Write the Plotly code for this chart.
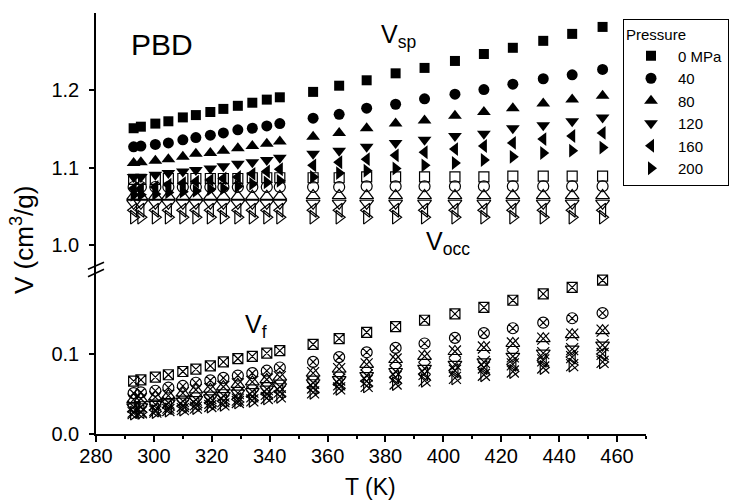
import plotly.graph_objects as go

# ---------------- data ----------------
temps = [293, 295.5, 300.5, 305, 310, 314.5, 319.5, 324, 329, 334, 339, 343.5,
         355, 364, 373.5, 383.5, 393.5, 404, 414, 424, 434.5, 444.5, 455]

pressures = ["0 MPa", "40", "80", "120", "160", "200"]

vsp_0 = [1.151, 1.153, 1.157, 1.160, 1.165, 1.168, 1.172, 1.176, 1.180, 1.184, 1.188, 1.191,
         1.198, 1.206, 1.213, 1.222, 1.229, 1.238, 1.247, 1.255, 1.264, 1.273, 1.282]
vsp_40 = [1.127, 1.128, 1.130, 1.132, 1.136, 1.139, 1.142, 1.145, 1.149, 1.151, 1.154, 1.157,
          1.164, 1.169, 1.177, 1.182, 1.189, 1.195, 1.201, 1.208, 1.215, 1.220, 1.227]
vsp_80 = [1.106, 1.107, 1.109, 1.111, 1.114, 1.118, 1.119, 1.122, 1.125, 1.128, 1.131, 1.134,
          1.140, 1.145, 1.151, 1.157, 1.161, 1.167, 1.172, 1.177, 1.183, 1.188, 1.193]
vsp_120 = [1.088, 1.088, 1.091, 1.093, 1.095, 1.097, 1.099, 1.102, 1.105, 1.107, 1.110, 1.113,
           1.118, 1.122, 1.127, 1.132, 1.136, 1.141, 1.144, 1.151, 1.155, 1.160, 1.165]
vsp_160 = [1.073, 1.073, 1.075, 1.078, 1.080, 1.082, 1.084, 1.086, 1.088, 1.092, 1.095, 1.098,
           1.103, 1.107, 1.111, 1.116, 1.120, 1.124, 1.128, 1.132, 1.137, 1.141, 1.145]
vsp_200 = [1.065, 1.065, 1.066, 1.068, 1.069, 1.070, 1.072, 1.073, 1.076, 1.079, 1.081, 1.083,
           1.088, 1.093, 1.096, 1.099, 1.103, 1.106, 1.110, 1.114, 1.119, 1.122, 1.126]

vocc_0 = [1.085, 1.085, 1.085, 1.086, 1.086, 1.086, 1.086, 1.086, 1.086, 1.087, 1.087, 1.087,
          1.087, 1.087, 1.088, 1.088, 1.088, 1.088, 1.088, 1.089, 1.089, 1.089, 1.089]
vocc_40 = [1.075, 1.075, 1.075, 1.075, 1.075, 1.075, 1.075, 1.075, 1.075, 1.075, 1.075, 1.075,
           1.075, 1.075, 1.076, 1.076, 1.076, 1.076, 1.076, 1.076, 1.076, 1.076, 1.076]
vocc_80 = [1.063, 1.063, 1.063, 1.063, 1.063, 1.063, 1.063, 1.063, 1.063, 1.063, 1.063, 1.063,
           1.064, 1.064, 1.064, 1.064, 1.064, 1.064, 1.064, 1.064, 1.064, 1.064, 1.064]
vocc_120 = [1.054, 1.054, 1.054, 1.054, 1.054, 1.054, 1.054, 1.054, 1.054, 1.054, 1.054, 1.054,
            1.054, 1.054, 1.054, 1.054, 1.054, 1.054, 1.054, 1.054, 1.054, 1.054, 1.054]
vocc_160 = [1.045, 1.045, 1.045, 1.045, 1.045, 1.045, 1.045, 1.045, 1.045, 1.045, 1.045, 1.045,
            1.045, 1.045, 1.045, 1.045, 1.045, 1.045, 1.045, 1.045, 1.045, 1.045, 1.045]
vocc_200 = [1.036, 1.036, 1.036, 1.036, 1.036, 1.036, 1.036, 1.036, 1.036, 1.036, 1.036, 1.036,
            1.036, 1.036, 1.036, 1.036, 1.036, 1.036, 1.036, 1.036, 1.036, 1.036, 1.036]

vf_0 = [0.066, 0.0675, 0.071, 0.074, 0.078, 0.081, 0.085, 0.090, 0.094, 0.097, 0.101, 0.104,
        0.112, 0.119, 0.127, 0.134, 0.142, 0.150, 0.158, 0.167, 0.175, 0.183, 0.192]
vf_40 = [0.051, 0.052, 0.054, 0.058, 0.060, 0.064, 0.067, 0.070, 0.073, 0.076, 0.079, 0.083,
         0.090, 0.096, 0.102, 0.1075, 0.113, 0.120, 0.126, 0.132, 0.139, 0.1445, 0.151]
vf_80 = [0.043, 0.044, 0.046, 0.048, 0.051, 0.055, 0.056, 0.059, 0.062, 0.065, 0.068, 0.071,
         0.076, 0.081, 0.087, 0.093, 0.097, 0.103, 0.108, 0.113, 0.119, 0.124, 0.129]
vf_120 = [0.034, 0.034, 0.037, 0.039, 0.041, 0.043, 0.045, 0.048, 0.051, 0.053, 0.056, 0.059,
          0.064, 0.068, 0.073, 0.078, 0.082, 0.087, 0.090, 0.097, 0.101, 0.106, 0.111]
vf_160 = [0.028, 0.028, 0.030, 0.033, 0.035, 0.037, 0.039, 0.041, 0.043, 0.047, 0.050, 0.053,
          0.058, 0.062, 0.066, 0.071, 0.075, 0.079, 0.083, 0.087, 0.092, 0.096, 0.100]
vf_200 = [0.026, 0.027, 0.028, 0.030, 0.031, 0.033, 0.035, 0.037, 0.040, 0.042, 0.045, 0.047,
          0.052, 0.057, 0.060, 0.063, 0.067, 0.070, 0.074, 0.078, 0.083, 0.086, 0.090]

vsp_all = [vsp_0, vsp_40, vsp_80, vsp_120, vsp_160, vsp_200]
vocc_all = [vocc_0, vocc_40, vocc_80, vocc_120, vocc_160, vocc_200]
vf_all = [vf_0, vf_40, vf_80, vf_120, vf_160, vf_200]

symbols = ["square", "circle", "triangle-up", "triangle-down", "triangle-left", "triangle-right"]
sizes = [10, 11, 12, 12, 12, 12]

FONT = "Liberation Sans, Arial, sans-serif"

# ---------------- figure ----------------
fig = go.Figure()

# free volume (lower panel)
for i, p in enumerate(pressures):
    sym = symbols[i]
    if sym in ("square", "circle"):
        fig.add_trace(go.Scatter(x=temps, y=vf_all[i], mode="markers", xaxis="x", yaxis="y",
                                 showlegend=False, hoverinfo="skip",
                                 marker=dict(symbol=sym + "-x-open", size=sizes[i], color="black",
                                             line=dict(width=1.2, color="black"))))
    else:
        fig.add_trace(go.Scatter(x=temps, y=vf_all[i], mode="markers", xaxis="x", yaxis="y",
                                 showlegend=False, hoverinfo="skip",
                                 marker=dict(symbol=sym + "-open", size=sizes[i], color="black",
                                             line=dict(width=1.2, color="black"))))
        fig.add_trace(go.Scatter(x=temps, y=vf_all[i], mode="markers", xaxis="x", yaxis="y",
                                 showlegend=False, hoverinfo="skip",
                                 marker=dict(symbol="x-thin-open", size=sizes[i], color="black",
                                             line=dict(width=1.2, color="black"))))

# occupied volume (open markers, upper panel)
for i, p in enumerate(pressures):
    fig.add_trace(go.Scatter(x=temps, y=vocc_all[i], mode="markers", xaxis="x", yaxis="y2",
                             showlegend=False, hoverinfo="skip",
                             marker=dict(symbol=symbols[i] + "-open", size=sizes[i], color="black",
                                         line=dict(width=1.2, color="black"))))

# specific volume (filled markers, legend)
for i, p in enumerate(pressures):
    fig.add_trace(go.Scatter(x=temps, y=vsp_all[i], mode="markers", xaxis="x", yaxis="y2",
                             name=p,
                             marker=dict(symbol=symbols[i], size=sizes[i], color="black",
                                         line=dict(width=0))))

# ---------------- layout geometry ----------------
W, H = 731, 503
L, R, T, B = 96, 85, 13, 69
pw, ph = W - L - R, H - T - B
split_px = 269  # pixel row of the axis break


def px2x(px):
    return (px - L) / pw


def px2y(py):
    return (H - B - py) / ph


split = px2y(split_px)

axis_common = dict(showline=True, linecolor="black", linewidth=1.5, showgrid=False,
                   zeroline=False, ticks="outside", tickcolor="black", tickwidth=1.5,
                   ticklen=5, tickfont=dict(family=FONT, size=20, color="black"))

fig.update_layout(
    width=W, height=H,
    margin=dict(l=L, r=R, t=T, b=B, autoexpand=False),
    paper_bgcolor="white", plot_bgcolor="white",
    font=dict(family=FONT, color="black"),
    xaxis=dict(range=[280, 470], dtick=20, tick0=280, anchor="y", ticklabelstandoff=-3,
               minor=dict(dtick=10, ticklen=3, ticks="outside", tickcolor="black", tickwidth=1.5),
               **{**axis_common, "ticklen": 6}),
    yaxis=dict(domain=[0, split], range=[0, 0.206], tickvals=[0.0, 0.1], tickformat=".1f",
               anchor="x", ticklabelstandoff=6, **axis_common),
    yaxis2=dict(domain=[split, 1], range=[0.969, 1.300], tickvals=[1.0, 1.1, 1.2], tickformat=".1f",
                anchor="x", ticklabelstandoff=6, **axis_common),
    legend=dict(x=px2x(623), y=px2y(19), xanchor="left", yanchor="top",
                bgcolor="white", bordercolor="black", borderwidth=1,
                font=dict(family=FONT, size=15, color="black"),
                title=dict(text="Pressure", font=dict(family=FONT, size=15, color="black")),
                tracegroupgap=0, itemwidth=44),
)

# axis break marks
for y0p, y1p in [(269.3, 262.3), (276.7, 269.3)]:
    fig.add_shape(type="line", xref="paper", yref="paper",
                  x0=px2x(88), x1=px2x(104), y0=px2y(y0p), y1=px2y(y1p),
                  line=dict(color="black", width=1.5))

annots = [
    dict(text="PBD", x=px2x(162), y=px2y(44), size=30, xanchor="center", yanchor="middle"),
    dict(text="V<sub>sp</sub>", x=px2x(379), y=px2y(36), size=25, xanchor="left", yanchor="middle"),
    dict(text="V<sub>occ</sub>", x=px2x(424), y=px2y(243), size=25, xanchor="left", yanchor="middle"),
    dict(text="V<sub>f</sub>", x=px2x(243), y=px2y(326), size=25, xanchor="left", yanchor="middle"),
    dict(text="T (K)", x=px2x(370), y=px2y(502), size=23, xanchor="center", yanchor="bottom"),
]
for a in annots:
    fig.add_annotation(xref="paper", yref="paper", x=a["x"], y=a["y"], text=a["text"],
                       showarrow=False, xanchor=a["xanchor"], yanchor=a["yanchor"],
                       font=dict(family=FONT, size=a["size"], color="black"))

fig.add_annotation(xref="paper", yref="paper", x=px2x(22), y=px2y(240),
                   text="V (cm<sup>3</sup>/g)", textangle=-90, showarrow=False,
                   xanchor="center", yanchor="middle",
                   font=dict(family=FONT, size=26, color="black"))

fig.write_html("out.html")
